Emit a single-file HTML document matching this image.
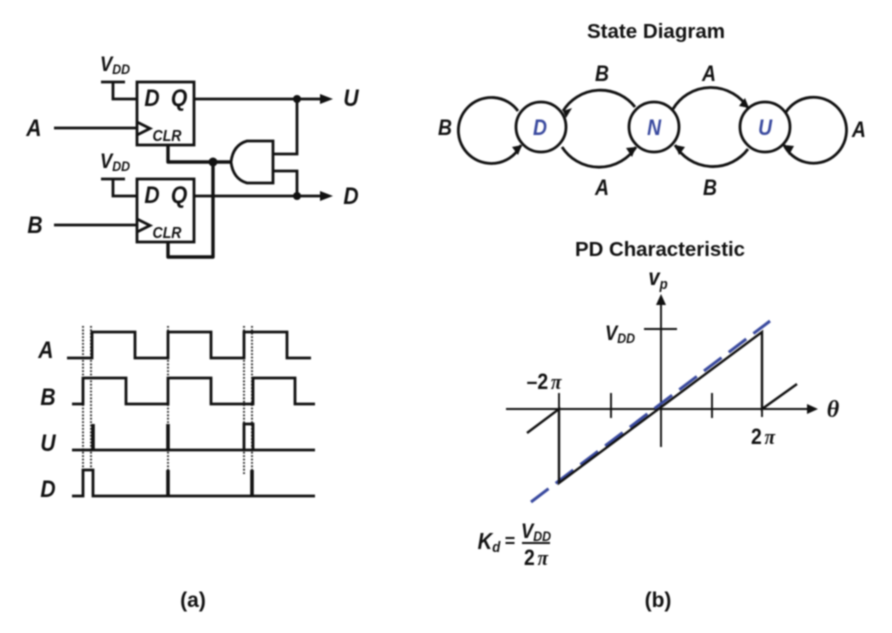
<!DOCTYPE html>
<html><head><meta charset="utf-8">
<style>
html,body{margin:0;padding:0;background:#fff;width:892px;height:633px;overflow:hidden}
svg{display:block;filter:blur(0.8px)}
text{font-family:"Liberation Sans",sans-serif;fill:#111;text-anchor:middle}
.l,.s,.n,.c{transform-box:fill-box;transform-origin:center;transform:scaleX(.88)}
.l{font-size:24px;font-weight:bold;font-style:italic}
.s{font-size:16px;font-weight:bold;font-style:italic}
.t{font-size:20px;font-weight:bold}
.n{font-size:22px;font-weight:bold;font-style:italic;fill:#3a4a9f}
.p{font-family:"Liberation Serif",serif;font-size:24px;font-style:italic;font-weight:bold}
.w{fill:none;stroke:#111;stroke-width:2.8}
.h{fill:none;stroke:#111;stroke-width:3.4;stroke-linejoin:round}
.d{fill:none;stroke:#333;stroke-width:2;stroke-dasharray:1.8 1.6}
.sy{font-family:"Liberation Serif",serif;font-style:italic;font-weight:bold}
</style></head>
<body>
<svg width="892" height="633" viewBox="0 0 892 633" xmlns="http://www.w3.org/2000/svg">
<!-- Flip flops -->
<rect x="137" y="82" width="57" height="63" class="w"/>
<rect x="137" y="179" width="57" height="63" class="w"/>
<path class="w" d="M101 82H125M113 82V99H137M101 179H125M113 179V196H137"/>
<path class="w" d="M54 128H137M54 225H137"/>
<path class="w" d="M137 122L150 128.500L137 135M137 219L150 225.500L137 232"/>
<path class="w" d="M194 99H325M194 196H325"/>
<path d="M320 94L333 99L320 104ZM320 191L333 196L320 201Z" fill="#111"/>
<path class="h" d="M168 145V162H231M168 242V257H213V162"/>
<path class="w" d="M273 154H297V99M273 171H297V196"/>
<path class="w" d="M273 141H247Q233 145 231 162Q233 179 247 183H273Z"/>
<circle cx="297" cy="99" r="4" fill="#111"/>
<circle cx="297" cy="196" r="4" fill="#111"/>
<circle cx="213" cy="162" r="4.500" fill="#111"/>
<text class="l" x="152" y="106">D</text>
<text class="l" x="179" y="106">Q</text>
<text class="l" x="152" y="203">D</text>
<text class="l" x="179" y="203">Q</text>
<text class="s" x="167" y="141">CLR</text>
<text class="s" x="167" y="238">CLR</text>
<text class="l" x="34" y="136">A</text>
<text class="l" x="35" y="233">B</text>
<text class="l" x="351" y="106">U</text>
<text class="l" x="351" y="204">D</text>
<text class="l" x="115" y="71" style="font-size:21px">V<tspan dy="3" style="font-size:14px">DD</tspan></text>
<text class="l" x="115" y="168" style="font-size:21px">V<tspan dy="3" style="font-size:14px">DD</tspan></text>

<!-- Timing -->
<path class="d" d="M83 326V470M91 326V470M168 326V470M244 326V475M252 326V470"/>
<path class="w" d="M67 358H92V332H135V358H168V332H211V358H244V332H287V358H311"/>
<path class="w" d="M72 404H83V378H126V404H168V378H211V404H253V378H295V404H315"/>
<path class="w" d="M72 450H315M244 450V424H253V450"/>
<path class="w" d="M72 496H83V470H93V496H315"/>
<path d="M93 424V450M168 424V450M168 470V496M252 470V496" fill="none" stroke="#111" stroke-width="3.6"/>
<text class="l" x="46" y="358">A</text>
<text class="l" x="48" y="405">B</text>
<text class="l" x="48" y="451">U</text>
<text class="l" x="48" y="497">D</text>

<!-- State diagram -->
<text class="t" x="656" y="38" textLength="138" lengthAdjust="spacingAndGlyphs">State Diagram</text>
<circle cx="541" cy="127" r="25" class="w"/>
<circle cx="654" cy="127" r="25" class="w"/>
<circle cx="765" cy="127" r="25" class="w"/>
<path class="w" d="M518 111A33 33 0 1 0 521 145"/>
<path class="w" d="M786 112A33 33 0 1 1 784 145"/>
<path class="w" d="M635 107A44 44 0 0 0 563 111"/>
<path class="w" d="M673 109A44 44 0 0 1 748 108"/>
<path class="w" d="M562 147A44 44 0 0 0 636 147"/>
<path class="w" d="M748 149A44 44 0 0 1 675 145"/>
<path fill="#111" d="M522 145L512 147L518 155ZM784 145L794 146L789 155ZM563 111L572 108L566 118ZM749 108L739 106L745 98ZM636 147L626 148L632 157ZM675 145L685 147L679 155Z"/>
<text class="n" x="540" y="135">D</text>
<text class="n" x="654" y="135">N</text>
<text class="n" x="765" y="135">U</text>
<text class="l" x="445" y="135" style="font-size:22px">B</text>
<text class="l" x="859" y="137" style="font-size:22px">A</text>
<text class="l" x="602" y="81" style="font-size:22px">B</text>
<text class="l" x="709" y="81" style="font-size:22px">A</text>
<text class="l" x="602" y="195" style="font-size:22px">A</text>
<text class="l" x="710" y="195" style="font-size:22px">B</text>

<!-- PD characteristic -->
<text class="t" x="660" y="256" textLength="170" lengthAdjust="spacingAndGlyphs">PD Characteristic</text>
<path d="M506 409H810M661 447V302M644 329H677M559 393V409M611 393V418M712 393V418M762 409V417" fill="none" stroke="#111" stroke-width="1.900"/>
<path d="M807 404L818 409L807 414ZM656 305L661 294L666 305Z" fill="#111"/>
<path d="M531 502L770 321" fill="none" stroke="#3a4a9f" stroke-width="3" stroke-dasharray="22 9"/>
<path d="M527 433L559 409V483L762 332V409L797 384" fill="none" stroke="#111" stroke-width="2.400"/>
<text class="l" x="658" y="285" style="font-size:23px">v<tspan dy="4" style="font-size:15px">p</tspan></text>
<text class="l" x="620" y="340" style="font-size:21px">V<tspan dy="3" style="font-size:14px">DD</tspan></text>
<text class="c" x="544" y="389" style="font-size:22px;font-weight:bold">–2<tspan class="sy" dx="3">π</tspan></text>
<text class="c" x="763" y="444" style="font-size:22px;font-weight:bold">2<tspan class="sy" dx="3">π</tspan></text>
<text class="p" x="833" y="417" style="font-size:24px">θ</text>
<text class="l" x="489" y="549" style="font-size:23px">K<tspan dy="3" style="font-size:15px">d</tspan></text>
<text x="510" y="547" style="font-size:18px;font-weight:bold">=</text>
<path d="M522 543H550" stroke="#111" stroke-width="2" fill="none"/>
<text class="l" x="536" y="538" style="font-size:21px">V<tspan dy="3" style="font-size:14px">DD</tspan></text>
<text class="c" x="536" y="565" style="font-size:22px;font-weight:bold">2<tspan class="sy" dx="3">π</tspan></text>

<text x="193" y="607" style="font-size:21px;font-weight:bold">(a)</text>
<text x="658" y="607" style="font-size:21px;font-weight:bold">(b)</text>
</svg>
</body></html>
